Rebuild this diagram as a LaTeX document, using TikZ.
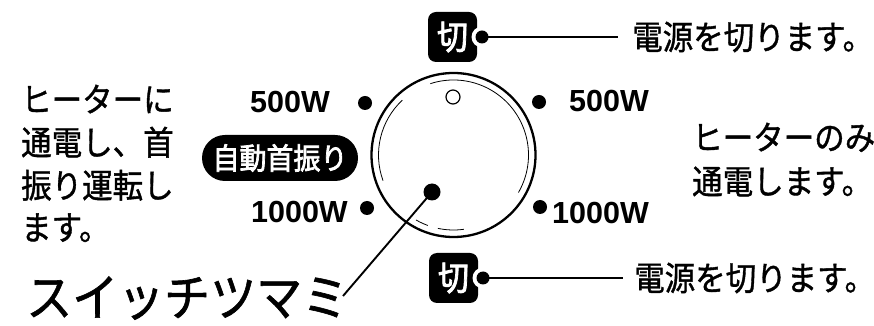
\documentclass[tikz,border=0pt]{standalone}
\usepackage{fontspec}
\newfontface\jp{Noto Sans CJK JP}[FakeBold=1.2]
\newfontface\jpheavy{Noto Sans CJK JP}[FakeBold=2.5]
\newfontfamily\wattfont{Liberation Sans}
\newcommand{\tallj}[1]{\scalebox{1}[1.1]{#1}}
\begin{document}
\begin{tikzpicture}[x=1pt,y=1pt,
  jptext/.style={inner sep=0, font=\jp\fontsize{30.5}{30.5}\selectfont},
  bigtext/.style={inner sep=0, font=\jp\fontsize{46}{46}\selectfont},
  watt/.style={inner sep=0, font=\wattfont\bfseries\fontsize{30.5}{30.5}\selectfont},
  bdot/.style={circle, fill=black, inner sep=0, minimum size=14},
  sdot/.style={circle, fill=black, inner sep=0, minimum size=13},
  notch/.style={circle, fill=white, inner sep=0, minimum size=21},
  kirbox/.style={fill=black, rounded corners=8, minimum width=49, minimum height=50, inner sep=0, text=white, font=\jpheavy\fontsize{31}{31}\selectfont},
  pill/.style={fill=black, rounded corners=23, minimum width=156, minimum height=46, inner sep=0, text=white, font=\jpheavy\fontsize{27}{27}\selectfont},
  leader/.style={line width=1.7}
]
\useasboundingbox (0,0) rectangle (874,326);

% top off position
\node[kirbox] (kirtop) at (452.5,289) {\tallj{切}};
\node[notch] (notchtop) at (482,289) {};
\node[sdot] (dottop) at (482,289) {};
\node[jptext, anchor=west] (offtop) at (632,289) {\tallj{電源を切ります。}};
\draw[leader] (dottop.center) -- ([xshift=-14]offtop.west);

% bottom off position
\node[kirbox] (kirbot) at (453.5,48) {\tallj{切}};
\node[notch] (notchbot) at (483,48) {};
\node[sdot] (dotbot) at (483,48) {};
\node[jptext, anchor=west] (offbot) at (634,48) {\tallj{電源を切ります。}};
\draw[leader] (dotbot.center) -- ([xshift=-11]offbot.west);

% dial
\node[circle, draw, line width=2.3, minimum size=164, inner sep=0] (dial) at (453.5,171) {};
\draw[line width=0.8] ([shift={(108:75)}]dial.center) arc[start angle=108, end angle=-30, radius=75];
\draw[line width=0.8] ([shift={(133:75)}]dial.center) arc[start angle=133, end angle=200, radius=75];
\draw[line width=0.8] ([shift={(240:75)}]dial.center) arc[start angle=240, end angle=250, radius=75];
\draw[line width=0.8] ([shift={(258:75)}]dial.center) arc[start angle=258, end angle=278, radius=75];
\node[circle, draw, line width=1.2, minimum size=14, inner sep=0] (mark) at (453,229) {};
\node[circle, fill=black, inner sep=0, minimum size=17] (knob) at (432,134) {};

% position dots
\node[bdot] (dlu) at (365,223) {};
\node[bdot] (dll) at (367,118) {};
\node[bdot] (dru) at (539,224) {};
\node[bdot] (drl) at (540,119) {};

% watt labels
\node[watt, anchor=base east] (wlu) at (330,213) {500W};
\node[watt, anchor=base east] (wll) at (348,103.5) {1000W};
\node[watt, anchor=base west] (wru) at (569,214) {500W};
\node[watt, anchor=base west] (wrl) at (552,102.5) {1000W};

% auto swing pill
\node[pill] (auto) at (280,168) {\tallj{自動首振り}};

% left description
\node[jptext, anchor=base west] (l1) at (21,214) {\tallj{ヒーターに}};
\node[jptext, anchor=base west] (l2) at (21,171) {\tallj{通電し、首}};
\node[jptext, anchor=base west] (l3) at (21,128) {\tallj{振り運転し}};
\node[jptext, anchor=base west] (l4) at (21,86) {\tallj{ます。}};

% right description
\node[jptext, anchor=base west] (r1) at (692,176) {\tallj{ヒーターのみ}};
\node[jptext, anchor=base west] (r2) at (692,132) {\tallj{通電します。}};

% knob label
\node[bigtext, anchor=base west] (knoblabel) at (26,10) {\tallj{スイッチツマミ}};
\coordinate (ptrend) at (343,30);
\draw[line width=1.9] (knob.center) -- (ptrend);
\end{tikzpicture}
\end{document}
